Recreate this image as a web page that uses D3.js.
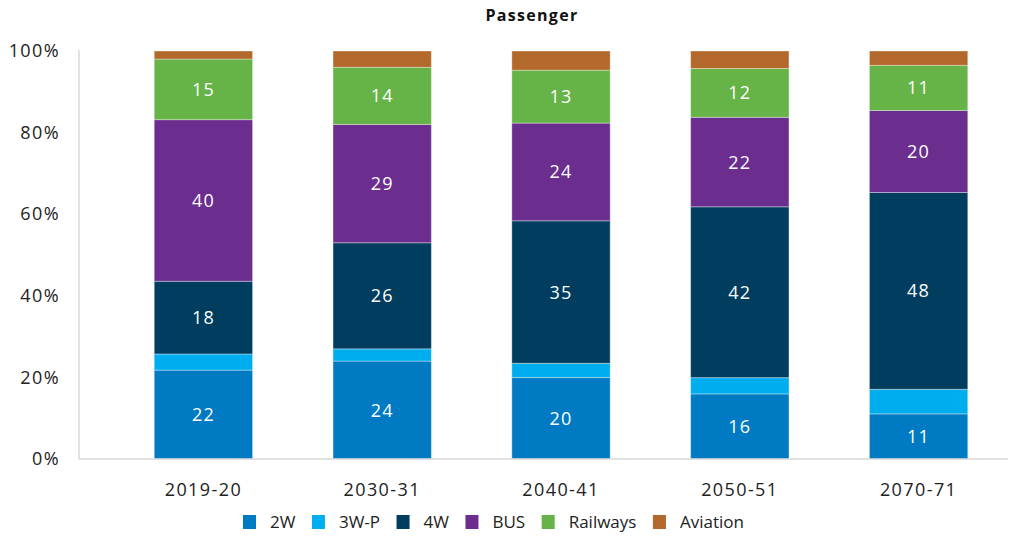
<!DOCTYPE html>
<html>
<head>
<meta charset="utf-8">
<script src="https://cdn.jsdelivr.net/npm/d3@7"></script>
<style>
  body { margin: 0; background: #fff; }
  svg { display: block; font-family: "Open Sans", "Noto Sans", sans-serif; }
</style>
</head>
<body>
<svg id="chart" width="1033" height="536"></svg>
<script>
// Passenger mode share by year (percent)
const years = ["2019-20", "2030-31", "2040-41", "2050-51", "2070-71"];
const modes = ["2W", "3W-P", "4W", "BUS", "Railways", "Aviation"];
const share2W       = [22, 24, 20, 16, 11];
const share3WP      = [4, 3, 3.5, 4, 6];
const share4W       = [18, 26, 35, 42, 48];
const shareBus      = [40, 29, 24, 22, 20];
const shareRailways = [15, 14, 13, 12, 11];
const shareAviation = [2, 4, 4.7, 4.3, 3.5];
const labelledModes = ["2W", "4W", "BUS", "Railways"];
const yTicks = [0, 20, 40, 60, 80, 100];
const colors = ["#007ac2", "#00aeef", "#003d5e", "#6b2d8e", "#66b347", "#b3692b"];

const seriesByMode = {
  "2W": share2W, "3W-P": share3WP, "4W": share4W,
  "BUS": shareBus, "Railways": shareRailways, "Aviation": shareAviation
};
const rows = years.map((yr, i) => {
  const r = { year: yr };
  modes.forEach(m => { r[m] = seriesByMode[m][i]; });
  return r;
});

const svg = d3.select("#chart");
const plotTop = 51, plotBottom = 459, plotLeft = 79, plotRight = 1008;

const x = d3.scaleBand().domain(years).range([114, 1008])
  .paddingInner(0.45).paddingOuter(0.225);
const y = d3.scaleLinear().domain([0, 1]).range([plotBottom, plotTop]);
const color = d3.scaleOrdinal().domain(modes).range(colors);

const stack = d3.stack().keys(modes).offset(d3.stackOffsetExpand);
const layers = stack(rows);

// title
svg.append("text").attr("x", 532).attr("y", 21).attr("text-anchor", "middle")
  .attr("font-size", 16).attr("font-weight", 700).attr("letter-spacing", 1.3)
  .attr("fill", "#111")
  .text("Passenger");

// axis lines
svg.append("line").attr("x1", plotLeft).attr("x2", plotLeft)
  .attr("y1", plotTop - 1).attr("y2", plotBottom)
  .attr("stroke", "#d9d9d9").attr("stroke-width", 1.5);

// y axis
const yAxis = d3.axisLeft(y).tickValues(yTicks.map(t => t / 100))
  .tickFormat(d => Math.round(d * 100) + "%").tickSize(0).tickPadding(0);
const gy = svg.append("g").attr("transform", `translate(60,0)`).call(yAxis);
gy.select(".domain").remove();
gy.selectAll("text").attr("font-size", 18).attr("letter-spacing", 1.4).attr("fill", "#222")
  .attr("font-family", "\"Open Sans\", sans-serif");

// bars
const g = svg.append("g");
layers.forEach(layer => {
  g.selectAll(null).data(layer).enter().append("rect")
    .attr("x", d => x(d.data.year))
    .attr("width", x.bandwidth())
    .attr("y", d => y(d[1]))
    .attr("height", d => y(d[0]) - y(d[1]))
    .attr("fill", color(layer.key))
    .attr("stroke", "#ffffff").attr("stroke-opacity", 0.35).attr("stroke-width", 1);
});

// value labels
layers.filter(l => labelledModes.includes(l.key)).forEach(layer => {
  g.selectAll(null).data(layer).enter().append("text")
    .attr("x", d => x(d.data.year) + x.bandwidth() / 2)
    .attr("y", d => (y(d[0]) + y(d[1])) / 2)
    .attr("dy", "0.36em")
    .attr("text-anchor", "middle")
    .attr("font-size", 18).attr("letter-spacing", 1.2).attr("fill", "#fff")
    .text(d => d.data[layer.key]);
});

svg.append("line").attr("x1", plotLeft).attr("x2", plotRight)
  .attr("y1", plotBottom).attr("y2", plotBottom)
  .attr("stroke", "#d9d9d9").attr("stroke-width", 1.5);

// x axis
const xAxis = d3.axisBottom(x).tickSize(0).tickPadding(0);
const gx = svg.append("g").attr("transform", `translate(0,${plotBottom + 24})`).call(xAxis);
gx.select(".domain").remove();
gx.selectAll("text").attr("font-size", 18).attr("letter-spacing", 1.4).attr("fill", "#222")
  .attr("font-family", "\"Open Sans\", sans-serif");

// legend
const legend = svg.append("g").attr("transform", "translate(243,515)");
let lx = 0;
modes.forEach(m => {
  const item = legend.append("g").attr("transform", `translate(${lx},0)`);
  item.append("rect").attr("width", 13).attr("height", 14).attr("fill", color(m));
  const t = item.append("text").attr("x", 27).attr("y", 13)
    .attr("font-size", 17).attr("fill", "#222").text(m);
  lx += 27 + t.node().getComputedTextLength() + 16.5;
});
</script>
</body>
</html>
